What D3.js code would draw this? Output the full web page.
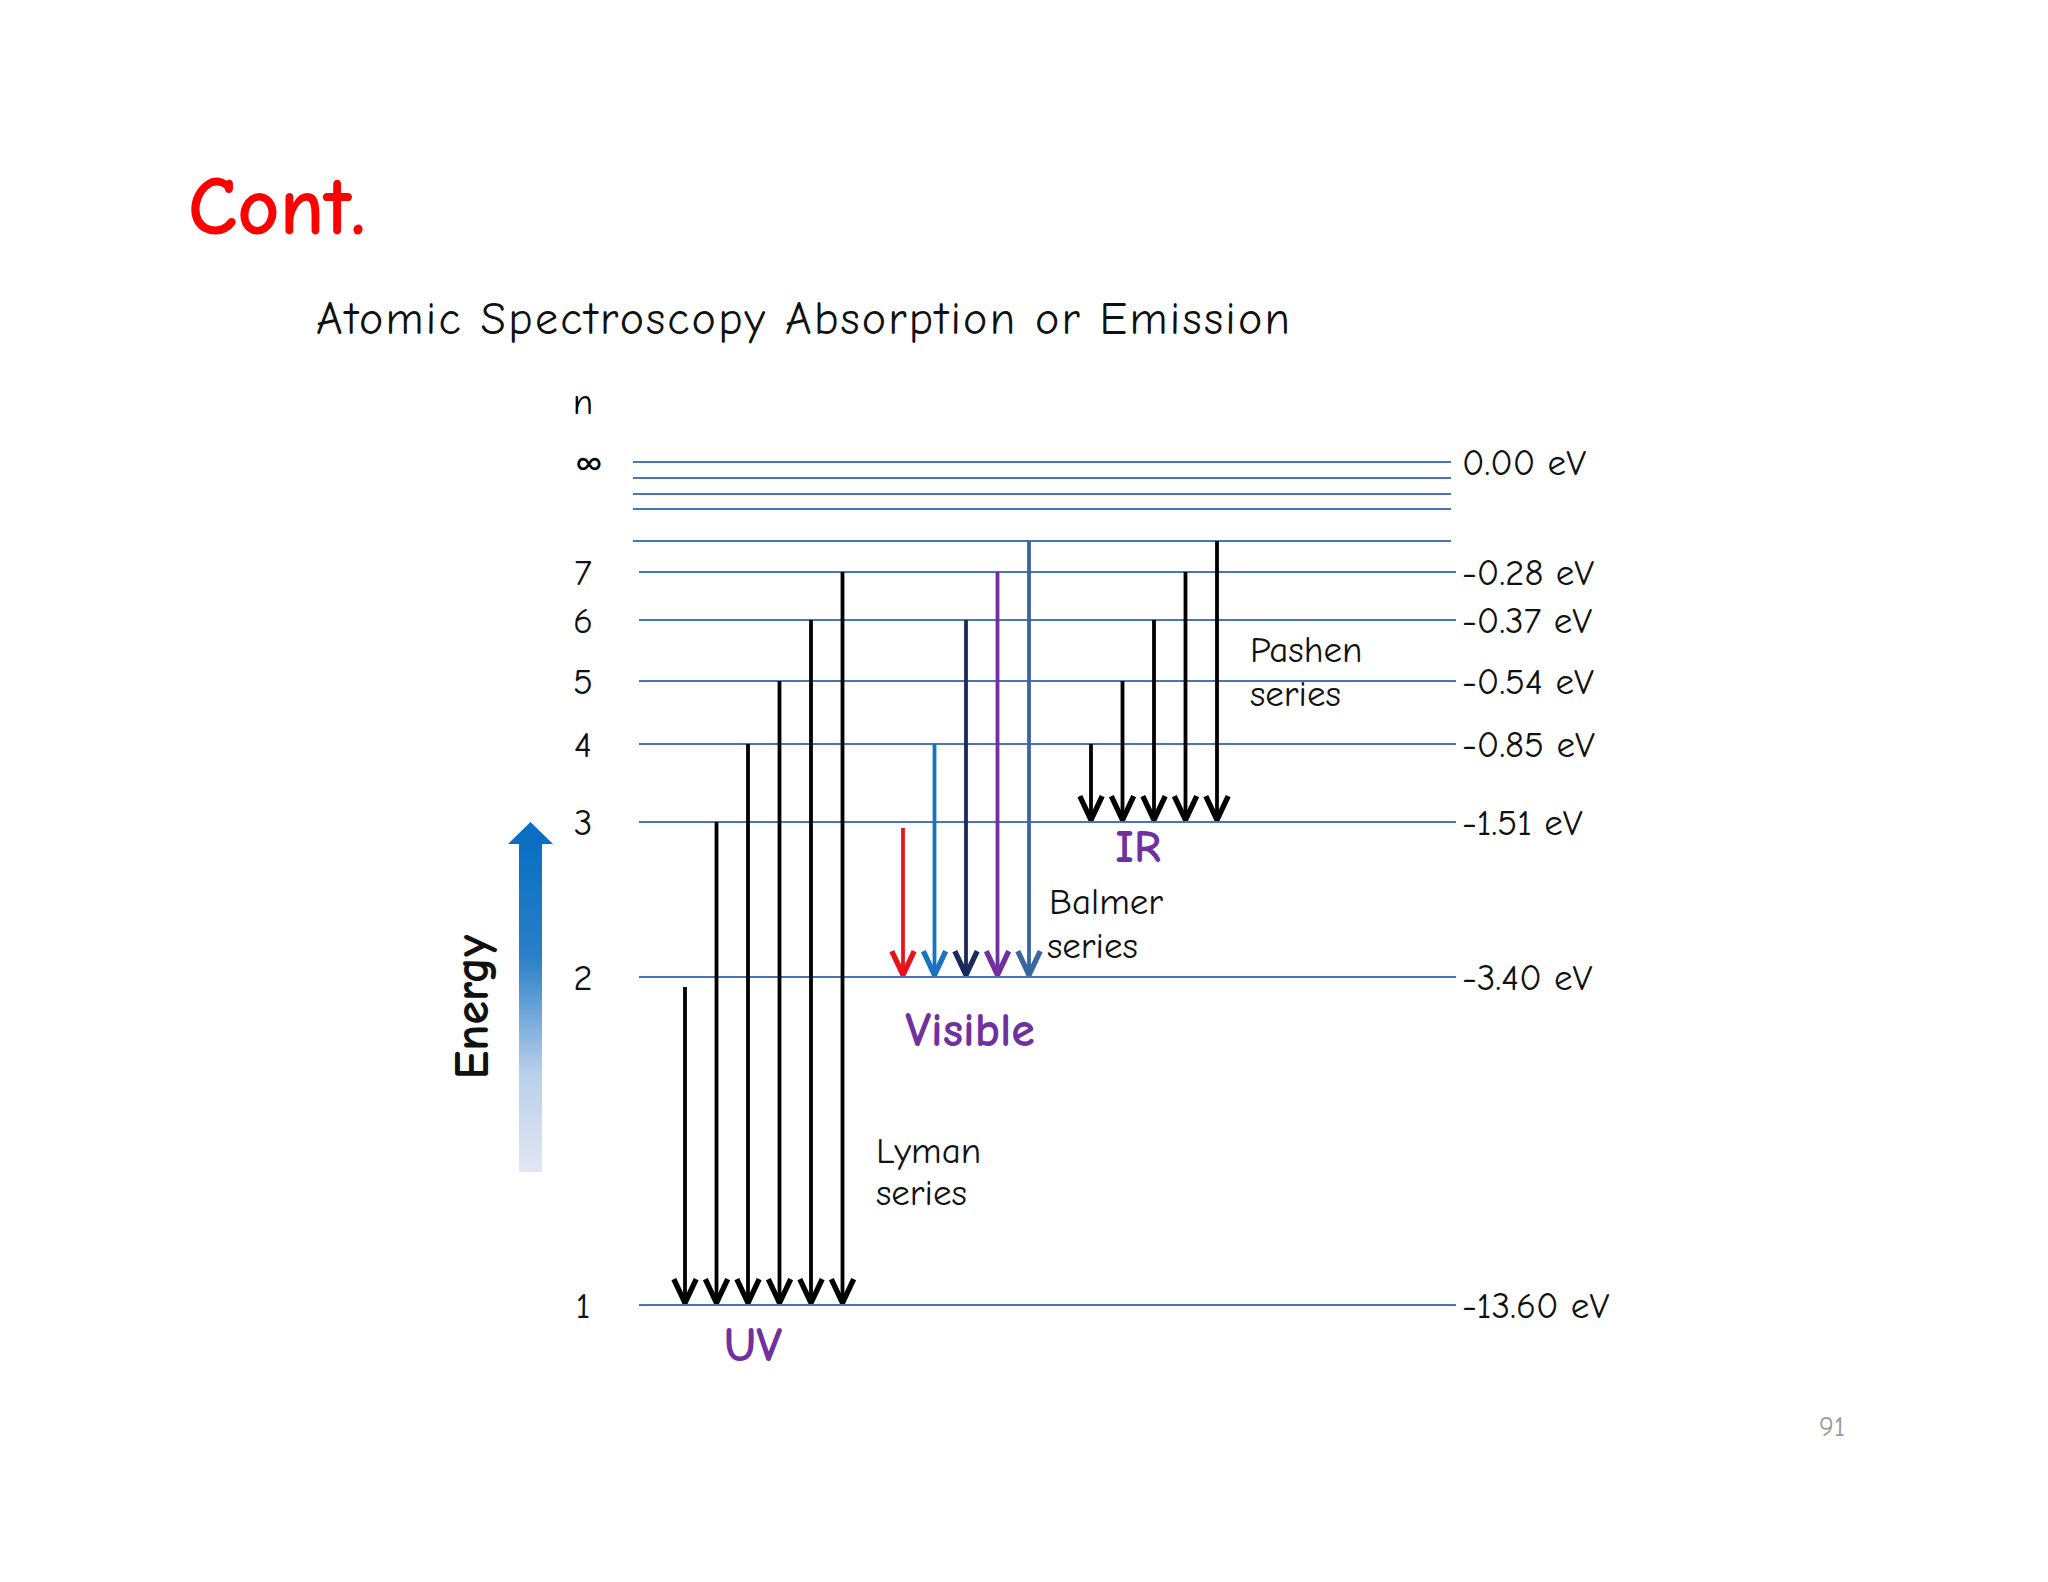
<!DOCTYPE html>
<html><head><meta charset="utf-8">
<script src="https://cdn.jsdelivr.net/npm/d3@7"></script>
<style>body{margin:0;background:#fff}text{font-family:"Comic Sans MS","Comic Neue",Lato,sans-serif}</style>
</head><body><div id="chart"></div>
<script>
// energy levels (eV) and their labels
var levelN = ["1", "2", "3", "4", "5", "6", "7"];
var levelE = [-13.60, -3.40, -1.51, -0.85, -0.54, -0.37, -0.28];
var upperE = [-0.21, -0.17, -0.136, -0.11, 0]; // n = 8..11, infinity
// series transitions: upper level energies, all ending on a lower level
var lymanFrom = [-3.40, -1.51, -0.85, -0.54, -0.37, -0.28];
var balmerFrom = [-1.51, -0.85, -0.37, -0.28, -0.21];
var balmerColors = ["#e8141c", "#1a73c0", "#1b2a5a", "#7030a0", "#3a66a0"];
var paschenFrom = [-0.85, -0.54, -0.37, -0.28, -0.21];

var width = 2048, height = 1582;
var svg = d3.select("#chart").append("svg").attr("width", width).attr("height", height)
  .append("g").attr("transform", "translate(-4,-4)");

// schematic (non-uniform) energy axis
var y = d3.scaleLinear()
  .domain([-13.60, -3.40, -1.51, -0.85, -0.54, -0.37, -0.28, -0.21, -0.17, -0.136, -0.11, 0])
  .range([1309, 981, 826, 748, 685, 624, 576, 545, 513, 498, 482, 466]);

var defs = svg.append("defs");
function marker(id, c) {
  defs.append("marker").attr("id", id)
    .attr("markerUnits", "userSpaceOnUse").attr("orient", "auto")
    .attr("viewBox", "0 0 20 20").attr("refX", 19).attr("refY", 10)
    .attr("markerWidth", 28).attr("markerHeight", 28)
    .append("path").attr("d", "M2,2 L19,10 L2,18").attr("fill", "none")
    .attr("stroke", c).attr("stroke-width", 3.8);
}
marker("ak", "#000");
balmerColors.forEach(function (c, i) { marker("ab" + i, c); });

var grad = defs.append("linearGradient").attr("id", "eg").attr("x1", 0).attr("x2", 0).attr("y1", 0).attr("y2", 1);
grad.append("stop").attr("offset", "0%").attr("stop-color", "#0a6fc2");
grad.append("stop").attr("offset", "35%").attr("stop-color", "#2a7fc8");
grad.append("stop").attr("offset", "70%").attr("stop-color", "#b8d0ea");
grad.append("stop").attr("offset", "100%").attr("stop-color", "#e2e6f2");

// title
svg.append("text").attr("x", 192).attr("y", 238).text("Cont.")
  .attr("font-size", 82).attr("font-weight", "bold").attr("fill", "#f00");
svg.append("text").attr("x", 320).attr("y", 338).text("Atomic Spectroscopy Absorption or Emission")
  .attr("font-size", 46).attr("fill", "#111").attr("textLength", 974);

// level lines
svg.selectAll(".up").data(upperE).enter().append("line")
  .attr("x1", 637).attr("x2", 1455)
  .attr("y1", function (d) { return y(d); }).attr("y2", function (d) { return y(d); })
  .attr("stroke", "#4a74b8").attr("stroke-width", 2);
svg.selectAll(".lv").data(levelE).enter().append("line")
  .attr("x1", 643).attr("x2", 1460)
  .attr("y1", function (d) { return y(d); }).attr("y2", function (d) { return y(d); })
  .attr("stroke", "#4a74b8").attr("stroke-width", 2);

svg.selectAll(".nl").data(levelE).enter().append("text")
  .attr("x", 587).attr("y", function (d) { return y(d) + 13; })
  .attr("text-anchor", "middle").attr("font-size", 37).attr("fill", "#111")
  .text(function (d, i) { return levelN[i]; });
svg.append("text").attr("x", 593).attr("y", y(0) + 13).attr("text-anchor", "middle")
  .attr("font-size", 37).text("\u221e");
svg.append("text").attr("x", 587).attr("y", 418).attr("text-anchor", "middle")
  .attr("font-size", 37).text("n");
svg.selectAll(".el").data(levelE.concat([0])).enter().append("text")
  .attr("x", 1466).attr("y", function (d) { return y(d) + 13; })
  .attr("font-size", 37).attr("fill", "#111")
  .text(function (d) { return d.toFixed(2) + " eV"; });

// arrows
function arrows(from, to, x0, colorFn, markerFn, startOffset) {
  svg.append("g").selectAll("line").data(from).enter().append("line")
    .attr("x1", function (d, i) { return x0 + i * 31.5; })
    .attr("x2", function (d, i) { return x0 + i * 31.5; })
    .attr("y1", function (d, i) { return y(d) + startOffset(i); })
    .attr("y2", y(to) - 2)
    .attr("stroke", colorFn).attr("stroke-width", 3.8)
    .attr("marker-end", markerFn);
}
arrows(lymanFrom, -13.60, 689, function () { return "#000"; }, function () { return "url(#ak)"; },
  function (i) { return i === 0 ? 10 : 0; });
arrows(balmerFrom, -3.40, 907, function (d, i) { return balmerColors[i]; }, function (d, i) { return "url(#ab" + i + ")"; },
  function (i) { return i === 0 ? 6 : 0; });
arrows(paschenFrom, -1.51, 1095, function () { return "#000"; }, function () { return "url(#ak)"; },
  function () { return 0; });

// series labels
function txt(x, yy, s, size, color, bold, anchor) {
  svg.append("text").attr("x", x).attr("y", yy).text(s).attr("font-size", size)
    .attr("fill", color).attr("font-weight", bold ? "bold" : "normal")
    .attr("text-anchor", anchor || "start");
}
txt(1254, 666, "Pashen", 37, "#111");
txt(1254, 710, "series", 37, "#111");
txt(1142, 866, "IR", 46, "#7030a0", true, "middle");
txt(1053, 918, "Balmer", 37, "#111");
txt(1051, 962, "series", 37, "#111");
txt(974, 1050, "Visible", 48, "#7030a0", true, "middle");
txt(880, 1167, "Lyman", 37, "#111");
txt(880, 1209, "series", 37, "#111");
txt(757, 1365, "UV", 48, "#7030a0", true, "middle");
txt(1836, 1440, "91", 28, "#999", false, "middle");

// energy arrow
svg.append("rect").attr("x", 523).attr("y", 846).attr("width", 23).attr("height", 330).attr("fill", "url(#eg)");
svg.append("path").attr("d", "M512,848 L534.5,826 L557,848 Z").attr("fill", "#0a6fc2");
svg.append("text").attr("transform", "translate(492,1011) rotate(-90)")
  .attr("text-anchor", "middle").attr("font-size", 48).attr("font-weight", "bold")
  .attr("fill", "#111").text("Energy");
</script></body></html>
